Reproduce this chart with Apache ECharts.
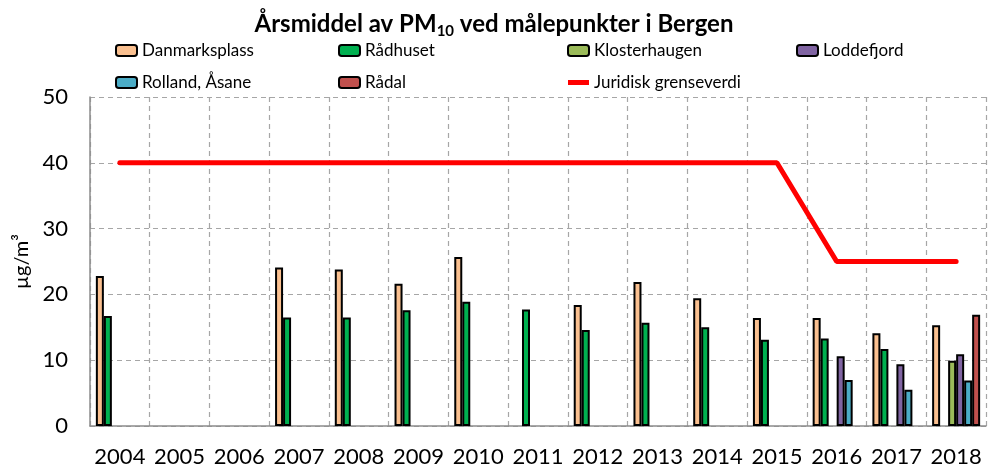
<!DOCTYPE html>
<html>
<head>
<meta charset="utf-8">
<script src="https://cdn.jsdelivr.net/npm/echarts@6/dist/echarts.min.js"></script>
<style>
  html, body { margin: 0; padding: 0; background: #fff; }
  #chart { width: 988px; height: 470px; }
</style>
</head>
<body>
<div id="chart"></div>
<script>
var years = ['2004', '2005', '2006', '2007', '2008', '2009', '2010', '2011', '2012', '2013', '2014', '2015', '2016', '2017', '2018'];
var danmarksplass = [22.8, null, null, 24.1, 23.8, 21.6, 25.7, null, 18.4, 21.9, 19.4, 16.4, 16.4, 14.1, 15.3];
var raadhuset = [16.7, null, null, 16.5, 16.5, 17.6, 18.9, 17.7, 14.6, 15.7, 15.0, 13.1, 13.3, 11.7, null];
var klosterhaugen = [null, null, null, null, null, null, null, null, null, null, null, null, null, null, 9.9];
var loddefjord = [null, null, null, null, null, null, null, null, null, null, null, null, 10.6, 9.4, 10.9];
var rolland = [null, null, null, null, null, null, null, null, null, null, null, null, 7.0, 5.5, 6.9];
var raadal = [null, null, null, null, null, null, null, null, null, null, null, null, null, null, 16.9];
var grenseverdi = [40, 40, 40, 40, 40, 40, 40, 40, 40, 40, 40, 40, 25, 25, 25];
var yTicks = [0, 10, 20, 30, 40, 50];

var FONT = 'Lato, "Liberation Sans", sans-serif';

var myChart = echarts.init(document.getElementById('chart'));

// stolpeserier, én per målepunkt
function barSerie(name, data, color) {
    return {
        name: name,
        type: 'bar',
        data: data,
        barWidth: 8,
        barGap: '0%',
        itemStyle: { color: color, borderColor: '#000', borderWidth: 2 }
    };
}

// en legend-kolonne
function legendCol(left, names) {
    return {
        data: names,
        left: left,
        top: 36,
        orient: 'vertical',
        itemWidth: 21,
        itemHeight: 11,
        itemGap: 13,
        textStyle: { fontSize: 17, lineHeight: 19, color: '#000', fontFamily: FONT }
    };
}

var option = {
    backgroundColor: '#fff',
    animation: false,
    textStyle: { fontFamily: FONT },
    title: {
        text: '{a|Årsmiddel av PM}{s|10}{a| ved målepunkter i Bergen}',
        left: 'center',
        top: 5,
        textStyle: {
            rich: {
                a: { fontSize: 24, fontWeight: 'bold', color: '#000', fontFamily: FONT },
                s: { fontSize: 15, fontWeight: 'bold', color: '#000', fontFamily: FONT, verticalAlign: 'bottom', padding: [14, 0, 0, 0] }
            }
        }
    },
    legend: [
        legendCol(110, ['Danmarksplass', 'Rolland, Åsane']),
        legendCol(333, ['Rådhuset', 'Rådal']),
        legendCol(562, ['Klosterhaugen', { name: 'Juridisk grenseverdi', icon: 'path://M0,0 L21,0 L21,5 L0,5 Z' }]),
        legendCol(791, ['Loddefjord'])
    ],
    grid: { left: 90, right: 2, top: 97, bottom: 44 },
    xAxis: {
        type: 'category',
        data: years,
        axisLine: { lineStyle: { color: '#8c8c8c', width: 1.5 } },
        axisTick: { show: false },
        axisLabel: { fontSize: 22, color: '#000', margin: 20, interval: 0 },
        splitLine: { show: true, interval: 0, lineStyle: { color: '#a6a6a6', type: [5, 4], width: 1.2 } }
    },
    yAxis: {
        type: 'value',
        min: yTicks[0],
        max: yTicks[yTicks.length - 1],
        interval: 10,
        name: 'µg/m³',
        nameLocation: 'middle',
        nameGap: 56,
        nameTextStyle: { fontSize: 20, color: '#000' },
        axisLine: { show: true, lineStyle: { color: '#8c8c8c', width: 1.5 } },
        axisTick: { show: false },
        axisLabel: { fontSize: 22, color: '#000', margin: 22 },
        splitLine: { lineStyle: { color: '#a6a6a6', type: [5, 4], width: 1.2 } }
    },
    series: [
        barSerie('Danmarksplass', danmarksplass, '#FAC090'),
        barSerie('Rådhuset', raadhuset, '#00B050'),
        barSerie('Klosterhaugen', klosterhaugen, '#9BBB59'),
        barSerie('Loddefjord', loddefjord, '#8064A2'),
        barSerie('Rolland, Åsane', rolland, '#4BACC6'),
        barSerie('Rådal', raadal, '#C0504D'),
        {
            name: 'Juridisk grenseverdi',
            type: 'line',
            data: grenseverdi,
            showSymbol: false,
            symbol: 'none',
            z: 5,
            itemStyle: { color: '#FF0000', borderWidth: 0 },
            lineStyle: { color: '#FF0000', width: 5, cap: 'round' }
        }
    ]
};

myChart.setOption(option);
</script>
</body>
</html>
